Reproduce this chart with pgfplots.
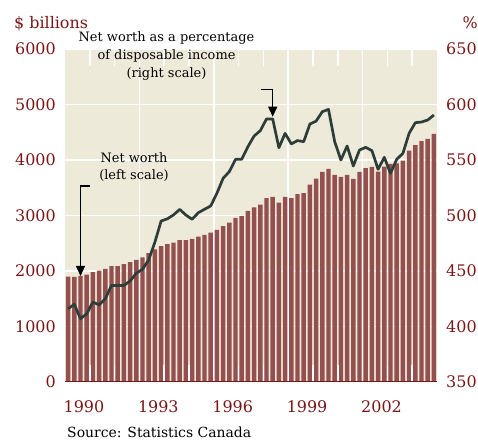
\documentclass[border=0pt]{standalone}
\usepackage{pgfplots}
\pgfplotsset{compat=1.18}
\usepackage{fontspec}
\setmainfont{DejaVu Serif}
\usetikzlibrary{arrows.meta}

\definecolor{barred}{RGB}{148,79,79}
\definecolor{bgbeige}{RGB}{238,234,217}
\definecolor{txtred}{RGB}{122,22,22}
\definecolor{linegray}{RGB}{45,62,58}

\pgfplotsset{
  common/.style={
    scale only axis, width=372bp, height=333bp,
    xmin=-0.5, xmax=59.5,
    major tick length=0,
    tick label style={font=\fontsize{16}{18}\selectfont, text=txtred,
      /pgf/number format/assume math mode=true,
      /pgf/number format/1000 sep={}},
  },
}
\tikzset{stub/.style={white, line width=1.6bp}}

\begin{document}
\begin{tikzpicture}
% left scale: net worth, $ billions (quarterly, 1990Q1-2004Q4)
\begin{axis}[common, name=ax,
    ymin=0, ymax=6000,
    axis background/.style={fill=bgbeige},
    axis line style={draw=none},
    xtick pos=bottom, ytick pos=left,
    xtick={2.55,14.55,26.55,38.55,50.55},
    xticklabels={1990,1993,1996,1999,2002},
    xticklabel style={anchor=base, yshift=-31bp},
    extra x ticks={11.5,23.5,35.5,47.5},
    extra x tick labels={},
    extra x tick style={grid=major},
    ytick={0,1000,...,6000},
    ymajorgrids,
    grid style={white, line width=1.5bp},
    yticklabel style={anchor=east, xshift=-5.7bp},
]
\addplot[ybar, bar width=0.72, fill=barred, draw=none] coordinates {
  (0,1900) (1,1895) (2,1910) (3,1935) (4,1980) (5,2005) (6,2040) (7,2090)
  (8,2090) (9,2125) (10,2160) (11,2200) (12,2245) (13,2320) (14,2390) (15,2450)
  (16,2485) (17,2510) (18,2555) (19,2558) (20,2580) (21,2620) (22,2650) (23,2690)
  (24,2740) (25,2810) (26,2870) (27,2955) (28,2990) (29,3085) (30,3145) (31,3195)
  (32,3315) (33,3335) (34,3230) (35,3335) (36,3315) (37,3385) (38,3405) (39,3555)
  (40,3665) (41,3785) (42,3840) (43,3730) (44,3695) (45,3730) (46,3660) (47,3785)
  (48,3855) (49,3875) (50,3790) (51,3880) (52,3930) (53,3940) (54,3990) (55,4170)
  (56,4270) (57,4340) (58,4380) (59,4470)
};
% short white year marks at top and bottom (they fall in the gaps between bars)
\draw[stub]
  (axis cs:3.5,6000) -- (axis cs:3.5,5694) (axis cs:7.5,6000) -- (axis cs:7.5,5694)
  (axis cs:15.5,6000) -- (axis cs:15.5,5694) (axis cs:19.5,6000) -- (axis cs:19.5,5694)
  (axis cs:27.5,6000) -- (axis cs:27.5,5694) (axis cs:31.5,6000) -- (axis cs:31.5,5694)
  (axis cs:39.5,6000) -- (axis cs:39.5,5694) (axis cs:43.5,6000) -- (axis cs:43.5,5694)
  (axis cs:51.5,6000) -- (axis cs:51.5,5694) (axis cs:55.5,6000) -- (axis cs:55.5,5694);
\draw[stub]
  (axis cs:3.5,0) -- (axis cs:3.5,306) (axis cs:7.5,0) -- (axis cs:7.5,306)
  (axis cs:15.5,0) -- (axis cs:15.5,306) (axis cs:19.5,0) -- (axis cs:19.5,306)
  (axis cs:27.5,0) -- (axis cs:27.5,306) (axis cs:31.5,0) -- (axis cs:31.5,306)
  (axis cs:39.5,0) -- (axis cs:39.5,306) (axis cs:43.5,0) -- (axis cs:43.5,306)
  (axis cs:51.5,0) -- (axis cs:51.5,306) (axis cs:55.5,0) -- (axis cs:55.5,306);
\draw[txtred, line width=1.5bp] (rel axis cs:0,0) -- (rel axis cs:1,0);
\coordinate (tipL) at (axis cs:2,1910);
\end{axis}

% right scale: net worth as % of disposable income
\begin{axis}[common,
    ymin=350, ymax=650,
    axis x line=none,
    axis y line*=right,
    y axis line style={draw=none},
    ytick={350,400,...,650},
    yticklabel style={anchor=west, xshift=5.7bp},
]
\addplot[linegray, line width=2.7bp, line join=round, sharp plot, no markers] coordinates {
  (0,416) (1,420) (2,407) (3,411.5) (4,422) (5,419.5) (6,425) (7,437)
  (8,437) (9,437) (10,441) (11,448) (12,451.5) (13,460) (14,476) (15,495)
  (16,497) (17,500.5) (18,505.5) (19,500.4) (20,496.6) (21,502.5) (22,505.6) (23,508.6)
  (24,520) (25,533.5) (26,539.5) (27,550.6) (28,550.6) (29,562) (30,571.6) (31,576.4)
  (32,587) (33,587) (34,561) (35,574) (36,564.5) (37,567.5) (38,566.5) (39,582.4)
  (40,585) (41,593.5) (42,595.6) (43,566.5) (44,550) (45,562.6) (46,544.6) (47,559)
  (48,561.4) (49,558.4) (50,541.6) (51,552.4) (52,538) (53,550.6) (54,556) (55,574)
  (56,583.6) (57,584.2) (58,586) (59,590.5)
};
\coordinate (tipR) at (axis cs:33,589);
\end{axis}

% pointer arrows
\draw[black, line width=1.2bp, -{Triangle[width=9bp,length=10bp]}]
  ([xshift=9.5bp,yshift=90bp]tipL) -- ([yshift=90bp]tipL) -- (tipL);
\draw[black, line width=1.2bp, -{Triangle[width=9bp,length=10bp]}]
  ([xshift=-12bp,yshift=27bp]tipR) -- ([yshift=27bp]tipR) -- (tipR);

% titles and notes, placed in image pixel coordinates
\begin{scope}[shift={([xshift=-65bp,yshift=382bp]ax.south west)}, x=1bp, y=-1bp]
  \node[anchor=base west, inner sep=0, text=txtred, font=\fontsize{16}{18}\selectfont] at (14,29) {\$ billions};
  \node[anchor=base east, inner sep=0, text=txtred, font=\fontsize{16}{18}\selectfont] at (478,29) {\%};
  \node[anchor=base, inner sep=0, align=center, font=\fontsize{13}{18}\selectfont] at (166.5,77.7)
    {Net worth as a percentage\\of disposable income\\(right scale)};
  \node[anchor=base, inner sep=0, align=center, font=\fontsize{13}{18}\selectfont] at (134,180)
    {Net worth\\(left scale)};
  \node[anchor=base west, inner sep=0, font=\fontsize{14}{18}\selectfont] at (67,438)
    {Source: Statistics Canada};
\end{scope}

\pgfresetboundingbox
\path ([xshift=-65bp,yshift=-60bp]ax.south west) rectangle ([xshift=41bp,yshift=49bp]ax.north east);
\end{tikzpicture}
\end{document}
